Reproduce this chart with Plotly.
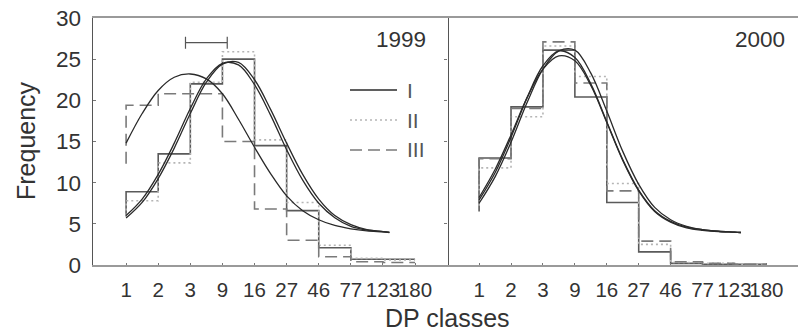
import plotly.graph_objects as go

# ---------------- data ----------------
categories = ["1", "2", "3", "9", "16", "27", "46", "77", "123", "180"]
series_names = ["I", "II", "III"]

# 1999 histograms (value per class interval) and the value where each step line starts
h1999_start = {"I": 5.9, "II": 6.0, "III": 12.3}
h1999 = {
    "I":   [8.9, 13.5, 22.0, 25.0, 14.5, 6.6, 2.1, 0.7, 0.7],
    "II":  [7.8, 12.4, 22.2, 25.9, 15.2, 7.6, 2.4, 0.8, 0.6],
    "III": [19.4, 20.8, 20.8, 15.0, 6.8, 3.0, 1.0, 0.4, 0.3],
}
# 2000 histograms
h2000_start = {"I": 6.5, "II": 7.2, "III": 7.6}
h2000 = {
    "I":   [13.0, 19.2, 26.1, 20.4, 7.6, 1.6, 0.2, 0.1, 0.1],
    "II":  [11.8, 18.0, 26.6, 22.9, 9.9, 2.5, 0.3, 0.2, 0.1],
    "III": [12.9, 19.0, 27.1, 22.1, 9.0, 2.9, 0.4, 0.2, 0.1],
}

# fitted curves, read at fractional class positions
curve_x = [0, 0.5, 1, 1.5, 2, 2.5, 3, 3.5, 4, 4.5, 5, 5.5, 6, 6.5, 7, 7.5, 8, 8.2]
c1999 = {
    "I":   [6.0, 8.0, 11.0, 14.8, 19.0, 22.6, 24.5, 24.3, 21.9, 18.2, 14.0, 10.3, 7.5, 5.75, 4.7, 4.25, 4.05, 3.95],
    "II":  [5.7, 7.6, 10.5, 14.2, 18.4, 22.2, 24.4, 24.6, 22.5, 18.9, 14.8, 11.0, 8.0, 6.0, 4.9, 4.3, 4.05, 3.95],
    "III": [14.8, 18.4, 21.2, 22.8, 23.2, 22.6, 20.8, 17.7, 14.3, 11.1, 8.4, 6.6, 5.5, 4.8, 4.4, 4.15, 4.02, 3.95],
}
c2000 = {
    "I":   [7.9, 11.2, 15.5, 20.3, 24.2, 26.0, 25.2, 22.0, 17.4, 12.8, 9.1, 6.6, 5.3, 4.6, 4.3, 4.1, 4.0, 3.95],
    "II":  [7.5, 10.7, 14.9, 19.7, 23.8, 26.0, 26.1, 23.3, 18.7, 13.8, 9.8, 7.0, 5.5, 4.7, 4.3, 4.1, 4.0, 3.95],
    "III": [8.2, 11.6, 15.8, 20.3, 23.8, 25.4, 24.8, 21.8, 17.3, 12.7, 9.0, 6.5, 5.2, 4.5, 4.2, 4.05, 4.0, 3.95],
}

# horizontal interval marker (1999)
interval_center = 2.5
interval_half = 0.65
interval_y = 27.0

y_ticks = [0, 5, 10, 15, 20, 25, 30]

# ---------------- styles ----------------
W, H = 798, 333
hist_style = {
    "I":   dict(color="#5a5a5a", width=1.6, dash="solid"),
    "II":  dict(color="#b5b5b5", width=1.6, dash="2px,3px"),
    "III": dict(color="#7a7a7a", width=1.6, dash="12px,6px"),
}
curve_style = dict(color="#2a2a2a", width=1.3)
FONT = "Liberation Sans, Arial, sans-serif"
TXT = "#333333"


def step_xy(start, vals):
    xs, ys = [0], [start]
    for i, v in enumerate(vals):
        xs += [i, i + 1]
        ys += [v, v]
    return xs, ys


fig = go.Figure()

for panel, (hs, hv, cv) in enumerate([(h1999_start, h1999, c1999), (h2000_start, h2000, c2000)]):
    xa = "x" if panel == 0 else "x2"
    ya = "y" if panel == 0 else "y2"
    for name in series_names:
        xs, ys = step_xy(hs[name], hv[name])
        fig.add_trace(go.Scatter(x=xs, y=ys, mode="lines", line=hist_style[name],
                                 xaxis=xa, yaxis=ya, showlegend=False, hoverinfo="skip"))
    for name in series_names:
        fig.add_trace(go.Scatter(x=curve_x, y=cv[name], mode="lines",
                                 line=dict(shape="spline", smoothing=1.0, **curve_style),
                                 xaxis=xa, yaxis=ya, showlegend=False, hoverinfo="skip"))

fig.add_trace(go.Scatter(x=[interval_center], y=[interval_y], mode="markers",
                         marker=dict(size=1, opacity=0),
                         error_x=dict(type="data", array=[interval_half], color="#555555",
                                      thickness=1.2, width=6),
                         xaxis="x", yaxis="y", showlegend=False, hoverinfo="skip"))

# plot area geometry (pixels)
left_x0, mid_x, right_x1 = 92.7, 447.5, 798.0
y_top, y_bot = 18.0, 265.0
dom_y = [(H - y_bot) / H, (H - y_top) / H]

axis_common = dict(
    tickmode="array", tickvals=list(range(len(categories))), ticktext=categories,
    tickangle=0, ticks="inside", ticklen=2, tickcolor="#777777", automargin=False,
    showgrid=False, zeroline=False, showline=True, linecolor="#9a9a9a", linewidth=1.5,
    mirror=True, tickfont=dict(family=FONT, size=20.5, color=TXT), ticklabelstandoff=6,
)

fig.update_layout(
    template="none",
    width=W, height=H, margin=dict(l=0, r=0, t=0, b=0, autoexpand=False),
    paper_bgcolor="white", plot_bgcolor="white",
    xaxis=dict(domain=[left_x0 / W, mid_x / W], range=[-1.04, 10.01], **axis_common),
    xaxis2=dict(domain=[mid_x / W, 1.0], range=[-0.99, 9.99], anchor="y2", **axis_common),
    yaxis=dict(domain=dom_y, range=[0, 30], tickvals=y_ticks, ticks="inside", ticklen=3,
               tickcolor="#777777", showgrid=False, zeroline=False, showline=True,
               linecolor="#555555", linewidth=1.2, mirror="ticks", automargin=False,
               tickfont=dict(family=FONT, size=22.5, color=TXT), ticklabelstandoff=6),
    yaxis2=dict(domain=dom_y, range=[0, 30], anchor="x2", showticklabels=False, ticks="",
                showgrid=False, zeroline=False, showline=False, automargin=False),
)

annotations = [
    dict(text="Frequency", x=26 / W, y=(H - 141) / H, xref="paper", yref="paper",
         textangle=-90, showarrow=False, font=dict(family=FONT, size=25, color=TXT),
         xanchor="center", yanchor="middle"),
    dict(text="DP classes", x=447 / W, y=(H - 318) / H, xref="paper", yref="paper",
         showarrow=False, font=dict(family=FONT, size=25, color=TXT),
         xanchor="center", yanchor="middle"),
    dict(text="1999", x=428 / W, y=(H - 40) / H, xref="paper", yref="paper",
         showarrow=False, font=dict(family=FONT, size=22.5, color=TXT),
         xanchor="right", yanchor="middle"),
    dict(text="2000", x=787 / W, y=(H - 40) / H, xref="paper", yref="paper",
         showarrow=False, font=dict(family=FONT, size=22.5, color=TXT),
         xanchor="right", yanchor="middle"),
]

# legend (drawn manually)
legend_rows_y = [90, 120, 150]
legend_line_colors = {"I": "#2a2a2a", "II": "#b5b5b5", "III": "#7a7a7a"}
shapes = []
for name, ly in zip(series_names, legend_rows_y):
    st = dict(hist_style[name])
    st["color"] = legend_line_colors[name]
    shapes.append(dict(type="line", xref="paper", yref="paper",
                       x0=350 / W, x1=397 / W, y0=(H - ly) / H, y1=(H - ly) / H,
                       line=st))
    annotations.append(dict(text=name, x=405 / W, y=(H - ly) / H, xref="paper", yref="paper",
                            showarrow=False, font=dict(family=FONT, size=21, color="#555555"),
                            xanchor="left", yanchor="middle"))

fig.update_layout(annotations=annotations, shapes=shapes)
fig.write_html("out.html")
